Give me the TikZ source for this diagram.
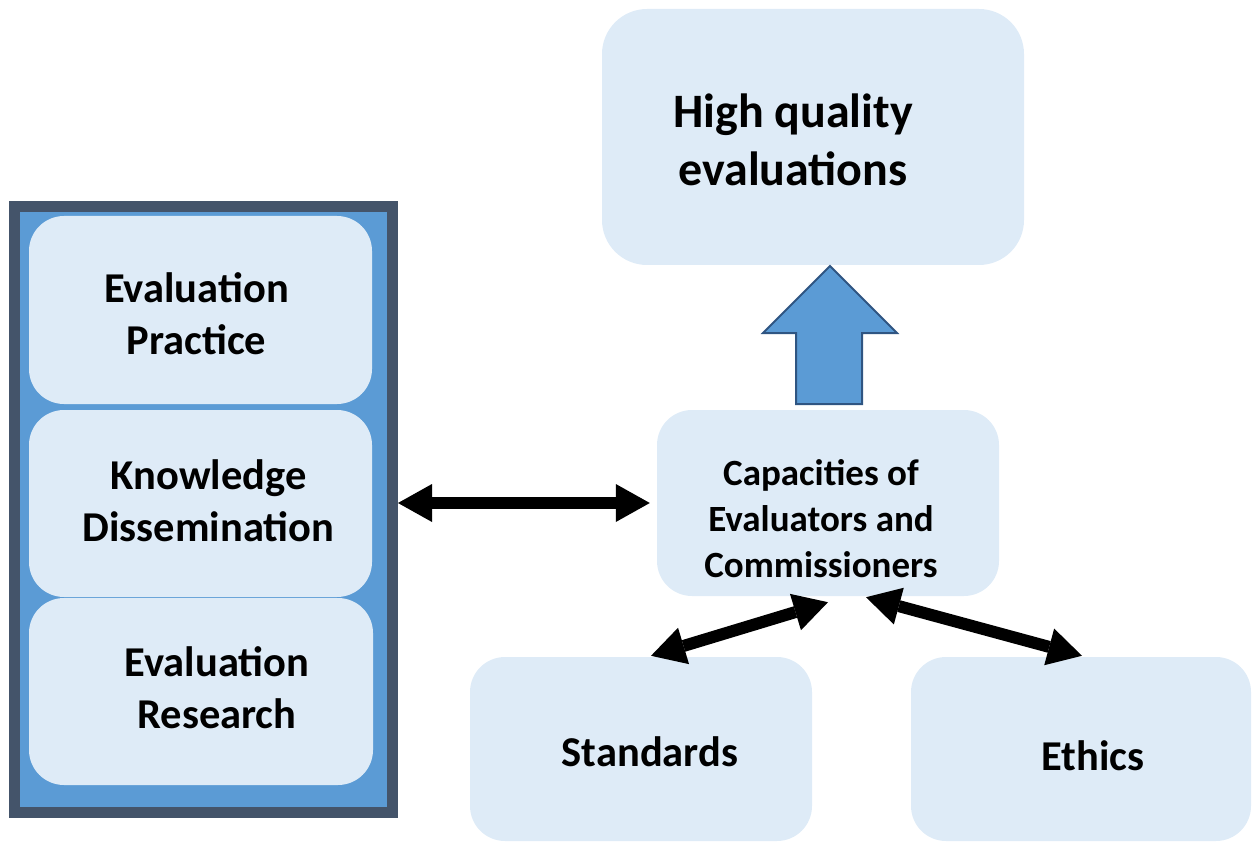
\documentclass[tikz,border=0pt]{standalone}
\usepackage{fontspec}
\setmainfont{Carlito}
\usetikzlibrary{calc,arrows.meta}
\definecolor{framegray}{RGB}{68,84,106}
\definecolor{frameblue}{RGB}{91,155,213}
\definecolor{boxblue}{RGB}{222,235,247}
\definecolor{arrowedge}{RGB}{47,85,130}

\begin{document}
\begin{tikzpicture}[x=1pt,y=-1pt,
  box/.style={fill=boxblue,rounded corners=35pt,inner sep=0pt},
  boxtext/.style={align=center,inner sep=0pt,font=\bfseries\fontsize{42.5}{52}\selectfont},
  dbl/.style={line width=12pt,
    {Triangle[length=34pt,width=38pt,line width=0pt]}-{Triangle[length=34pt,width=38pt,line width=0pt]}}]
\useasboundingbox (0,0) rectangle (1252,842);

% Left column in its frame
\node[draw=framegray,line width=11pt,fill=frameblue,minimum width=378pt,minimum height=606pt] (res) at (203.5,509.5) {};
\node[box,minimum width=343pt,minimum height=188pt] (prac) at (200.5,310) {};
\node[box,minimum width=343pt,minimum height=187pt] (know) at (200.5,503.5) {};
\node[box,minimum width=344pt,minimum height=187pt] (rsch) at (201,691.5) {};
\node[boxtext] (prac-t) at ($(prac)+(-4,4)$) {Evaluation\\Practice};
\node[boxtext] (know-t) at ($(know)+(8,-3)$) {Knowledge\\Dissemination};
\node[boxtext] (rsch-t) at ($(rsch)+(16,-4)$) {Evaluation\\Research};

% Right side
\node[box,rounded corners=45pt,minimum width=422pt,minimum height=256pt] (hq) at (813,137) {};
\node[box,minimum width=342pt,minimum height=186pt] (cap) at (828,503) {};
\node[box,minimum width=342pt,minimum height=184pt] (std) at (641,749) {};
\node[box,minimum width=340pt,minimum height=184pt] (eth) at (1081,749) {};
\node[boxtext,font=\bfseries\fontsize{48}{58}\selectfont] (hq-t) at ($(hq)+(-20,3)$) {High quality\\evaluations};
\node[boxtext,font=\bfseries\fontsize{37}{46}\selectfont] (cap-t) at ($(cap)+(-7,16)$) {Capacities of\\Evaluators and\\Commissioners};
\node[boxtext] (std-t) at ($(std)+(9,3)$) {Standards};
\node[boxtext] (eth-t) at ($(eth)+(12,7)$) {Ethics};

% Block arrow up to the top box
\draw[line width=2pt,draw=arrowedge,fill=frameblue,line join=miter]
  (830,266) -- (897,333) -- (862,333) -- (862,404) -- (796,404) -- (796,333) -- (763,333) -- cycle;

% Two-way links
\draw[dbl,shorten >=7pt] (res.east |- cap.west) -- (cap.west);
\draw[dbl] ($(std.north)+(10,-1)$) -- ($(cap.south)+(0,6)$);
\draw[dbl] ($(cap.south)+(38,1)$) -- ($(eth.north)+(1,-1)$);
\end{tikzpicture}
\end{document}
